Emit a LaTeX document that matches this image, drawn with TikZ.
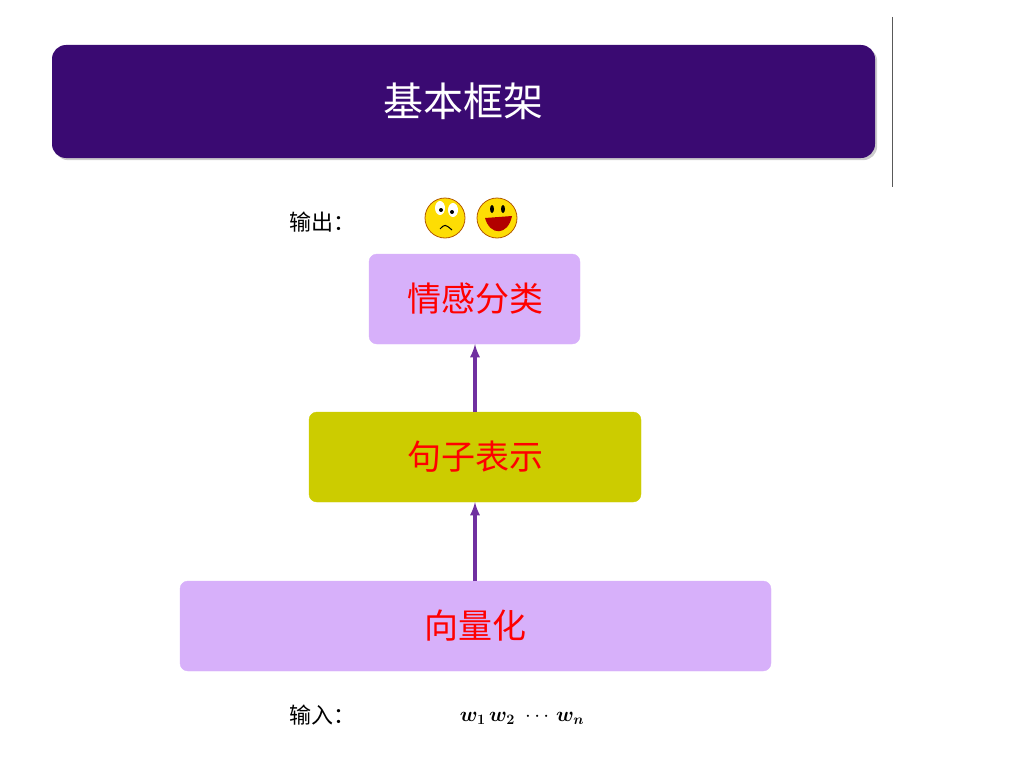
\documentclass[tikz,border=0pt]{standalone}
\usepackage{fontspec}
\usepackage{amsmath,bm}
\newfontfamily\cjk{Noto Sans CJK SC}
\usetikzlibrary{shadows}
\definecolor{titlepurple}{HTML}{3A0A72}
\definecolor{dotpurple}{HTML}{3B0A6B}
\definecolor{dotteal}{HTML}{6A9E9A}
\definecolor{dotyellow}{HTML}{CCCC00}
\definecolor{dotlilac}{HTML}{DCDAEE}
\definecolor{boxlilac}{HTML}{D7B0FA}
\definecolor{boxolive}{HTML}{CCCC00}
\definecolor{arrowpurple}{HTML}{7030A0}
\tikzset{
  stagebox/.style={rounded corners=8pt, text=red, font=\cjk\fontsize{34}{40}\selectfont},
  uparrow/.style={arrowpurple, line width=3.5pt, -latex},
  sidelabel/.style={font=\cjk\fontsize{22}{26}\selectfont},
  face/.style={fill=yellow!80!orange, draw=orange!70!black, line width=0.8pt},
}
\begin{document}
\begin{tikzpicture}[x=1pt,y=-1pt]
\useasboundingbox (0,0) rectangle (1024,768);
% title bar
\fill[titlepurple, rounded corners=14pt, drop shadow={opacity=.4}] (52,45) rectangle (875,158);
\node (title) at (463,101) [white, font=\cjk\fontsize{40}{48}\selectfont] {基本框架};
% decoration
\draw[gray!70!black, line width=1pt] (892,17) -- (892,187);
\foreach \row/\cols in {24/{P,P,P},42/{P,P,P,T},61/{P,P,T,T,Y},80/{P,T,T,Y},99/{T,T,Y,Y,L},117/{T,Y,Y,L},136/{Y,Y,L,L},155/{N,L,N,L}}{
  \foreach \c [count=\i from 0] in \cols {
    \ifx\c P\fill[dotpurple] (920+19*\i,\row) circle (6.5);\fi
    \ifx\c T\fill[dotteal] (920+19*\i,\row) circle (6.5);\fi
    \ifx\c Y\fill[dotyellow] (920+19*\i,\row) circle (6.5);\fi
    \ifx\c L\fill[dotlilac] (920+19*\i,\row) circle (6.5);\fi
  }
}
% stages
\draw[boxlilac, fill=boxlilac, rounded corners=8pt] (369,254) rectangle (580,344);
\node (cls) at (475,299) [stagebox] {情感分类};
\draw[boxolive, fill=boxolive, rounded corners=8pt] (309,412) rectangle (641,502);
\node (sent) at (475,457) [stagebox] {句子表示};
\draw[boxlilac, fill=boxlilac, rounded corners=8pt] (180,581) rectangle (771,671);
\node (vec) at (475,626) [stagebox] {向量化};
\coordinate (clsbot) at (475,344);
\coordinate (senttop) at (475,412);
\coordinate (sentbot) at (475,502);
\coordinate (vectop) at (475,581);
\draw[uparrow] (senttop) -- (clsbot);
\draw[uparrow] (vectop) -- (sentbot);
% labels
\node (out) at (322,222) [sidelabel] {输出：};
\node (in) at (322,715) [sidelabel] {输入：};
\node (words) at (522,718) [font=\fontsize{22}{26}\selectfont] {$\bm{w_1}\,\bm{w_2}\ \cdots\,\bm{w_n}$};
% faces
\draw[face] (445,218) circle (20);
\fill[white] (440,208) ellipse (5 and 7); \fill[white] (453,210) ellipse (5 and 7);
\fill (441,210) circle (2); \fill (452,212) circle (2);
\draw[line width=1pt] (440,229) .. controls (445,224) .. (452,230);
\draw[face] (497,218) circle (20);
\fill (492,209) ellipse (2 and 4); \fill (503,209) ellipse (2 and 4);
\fill[red!70!black] (485,218) .. controls (490,236) and (508,236) .. (512,216) -- cycle;
\end{tikzpicture}
\end{document}
